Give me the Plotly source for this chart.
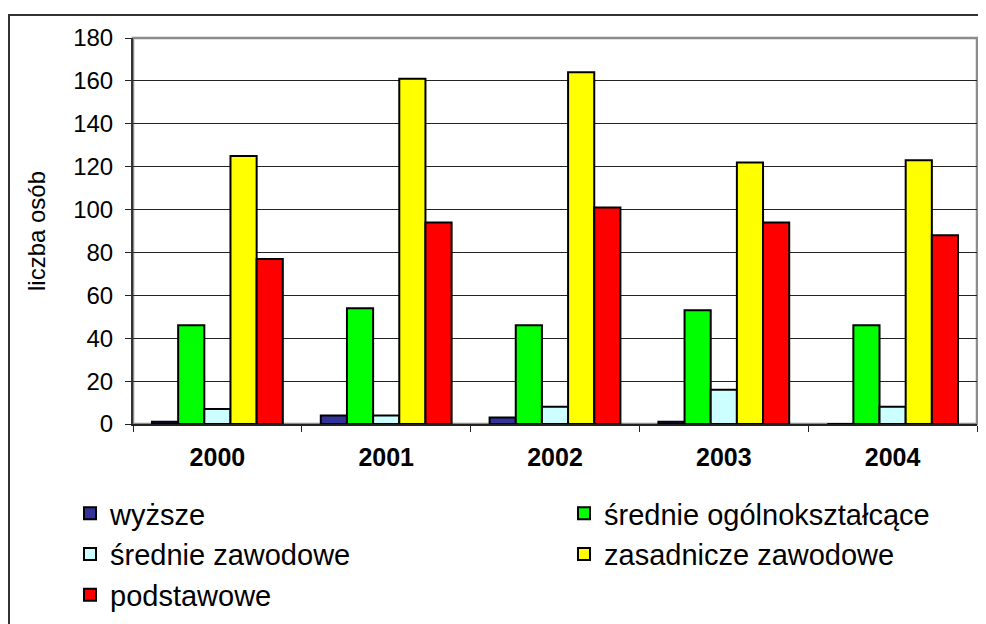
import plotly.graph_objects as go

years = ["2000", "2001", "2002", "2003", "2004"]
series_names = ["wyższe", "średnie ogólnokształcące", "średnie zawodowe",
                "zasadnicze zawodowe", "podstawowe"]
wyzsze = [1, 4, 3, 1, 0]
srednie_ogolnoksztalcace = [46, 54, 46, 53, 46]
srednie_zawodowe = [7, 4, 8, 16, 8]
zasadnicze_zawodowe = [125, 161, 164, 122, 123]
podstawowe = [77, 94, 101, 94, 88]
y_ticks = [0, 20, 40, 60, 80, 100, 120, 140, 160, 180]

values = [wyzsze, srednie_ogolnoksztalcace, srednie_zawodowe,
          zasadnicze_zawodowe, podstawowe]
colors = ["#333399", "#00FF00", "#CCFFFF", "#FFFF00", "#FF0000"]
legend_ids = ["legend", "legend2", "legend", "legend2", "legend"]

FONT = "Arial, 'Liberation Sans', sans-serif"

fig = go.Figure()
for name, vals, col, lg in zip(series_names, values, colors, legend_ids):
    fig.add_trace(go.Bar(
        x=years, y=vals, name=name, legend=lg,
        marker=dict(color=col, line=dict(color="#000000", width=2)),
    ))

# page offset of the plot div (default body margin)
OFF = 8
W, H = 986, 624
# plot area in page pixels: x 133..977, y 38..425
ml = 133 - OFF
mt = 38 - OFF
mr = W - (977 - OFF)
mb = H - (425 - OFF)
pw, ph = W - ml - mr, H - mt - mb

def px_x(p):
    return (p - OFF - ml) / pw

def px_y(p):
    return (H - mb - (p - OFF)) / ph

fig.update_layout(
    width=W, height=H,
    margin=dict(l=ml, r=mr, t=mt, b=mb, pad=0),
    paper_bgcolor="white", plot_bgcolor="white",
    barmode="group", bargap=0.225, bargroupgap=0,
    font=dict(family=FONT, color="#000000", size=24),
    xaxis=dict(
        type="category", showgrid=False, showline=True, linecolor="#222222",
        linewidth=2, ticks="outside", tickson="boundaries", ticklen=6,
        tickcolor="#222222", tickwidth=1,
        tickfont=dict(family=FONT, size=25, color="#000000", weight="bold"),
        ticklabelstandoff=10,
    ),
    yaxis=dict(
        range=[0, 180], tickvals=y_ticks, showgrid=True, gridcolor="#222222",
        gridwidth=1, zeroline=False, showline=True, linecolor="#333333",
        linewidth=2, ticks="outside", ticklen=6, tickcolor="#222222",
        tickfont=dict(family=FONT, size=24, color="#000000"),
        ticklabelstandoff=7,
        title=dict(text="liczba osób", font=dict(family=FONT, size=24),
                   standoff=21),
    ),
    legend=dict(
        orientation="v", x=px_x(70), xanchor="left", y=px_y(488), yanchor="top",
        font=dict(family=FONT, size=29), bgcolor="rgba(0,0,0,0)",
        itemwidth=30, tracegroupgap=0,
    ),
    legend2=dict(
        orientation="v", x=px_x(564), xanchor="left", y=px_y(488), yanchor="top",
        font=dict(family=FONT, size=29), bgcolor="rgba(0,0,0,0)",
        itemwidth=30, tracegroupgap=0,
    ),
    showlegend=True,
    shapes=[
        dict(type="rect", xref="paper", yref="paper", x0=0, x1=1, y0=0, y1=1,
             line=dict(color="#8C8C8C", width=2.5), layer="below"),
        dict(type="rect", xref="paper", yref="paper",
             x0=px_x(9), x1=px_x(1000), y0=px_y(640), y1=px_y(15),
             line=dict(color="#333333", width=2), layer="below"),
    ],
)

fig.write_html("out.html")
